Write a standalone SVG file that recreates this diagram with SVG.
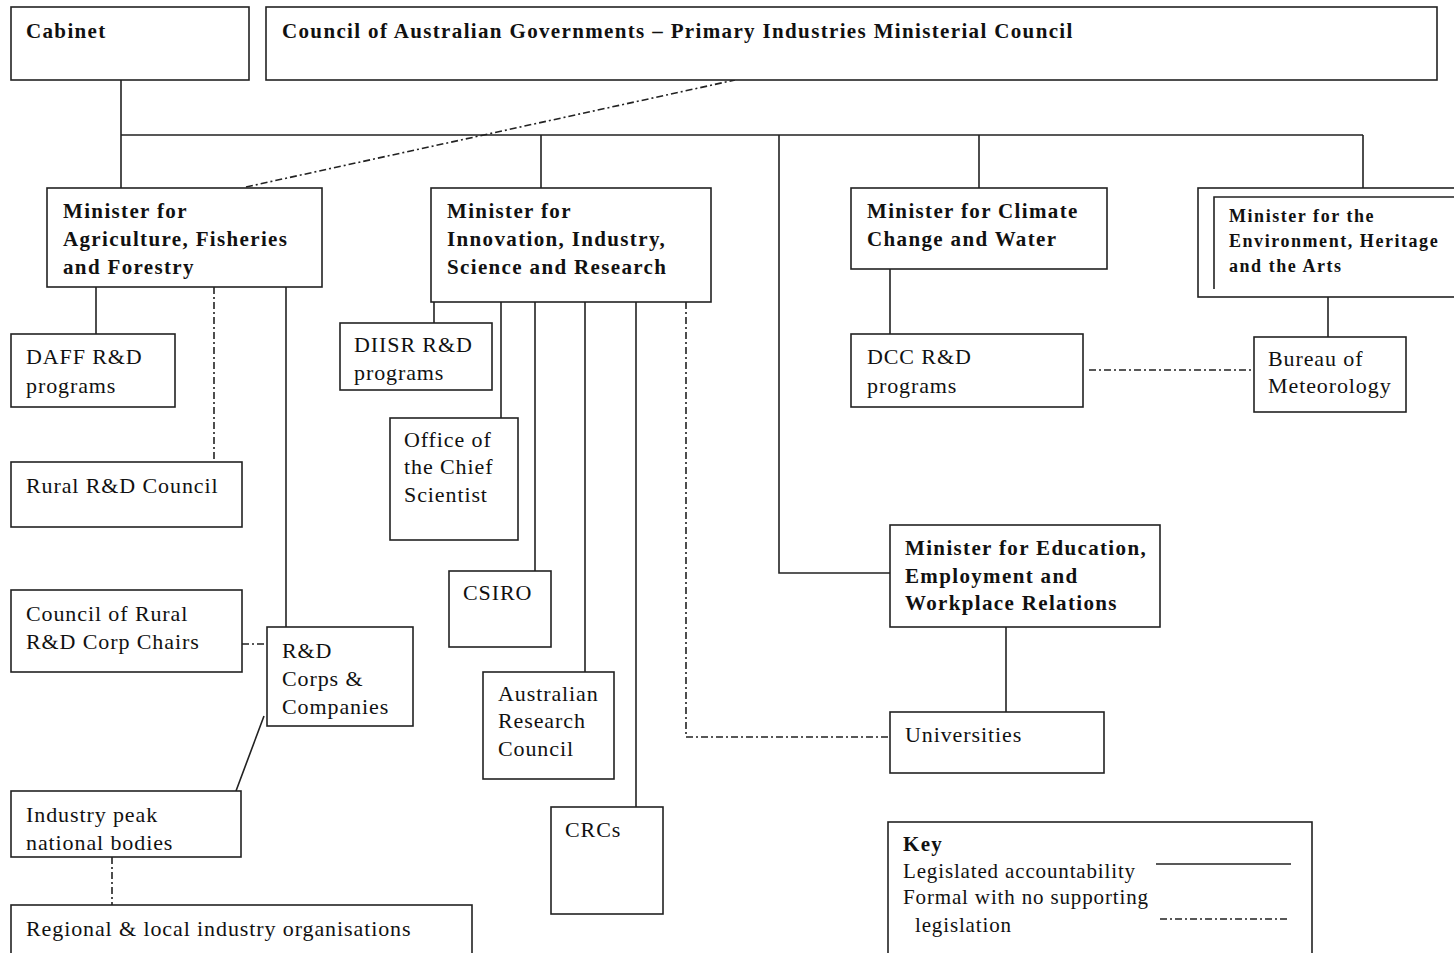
<svg xmlns="http://www.w3.org/2000/svg" width="1454" height="953" viewBox="0 0 1454 953">
<style>
.box{fill:#fff;stroke:#222;stroke-width:1.6}
.ln{fill:none;stroke:#222;stroke-width:1.6}
.dd{fill:none;stroke:#222;stroke-width:1.6;stroke-dasharray:7,3,2,3}
.b{font-family:"Liberation Serif",serif;font-weight:bold;font-size:21px;letter-spacing:1.35px;fill:#111}
.r{font-family:"Liberation Serif",serif;font-size:22px;letter-spacing:0.9px;fill:#111}
.k{font-family:"Liberation Serif",serif;font-size:21px;letter-spacing:0.85px;fill:#111}
.be{font-family:"Liberation Serif",serif;font-weight:bold;font-size:18px;letter-spacing:1.55px;fill:#111}
</style>
<rect width="1454" height="953" fill="#fff"/>
<g id="connectors">
<path class="ln" d="M121 80V188M121 135H1363M541 135V188M779 135V573H890M979 135V188M1363 135V188"/>
<path class="dd" d="M246 187L735 80"/>
<path class="ln" d="M96 287V334M286 287V627M264 716L236 791"/>
<path class="dd" d="M214 287V462M242 644H267M112 857V905"/>
<path class="ln" d="M434 302V323M501 302V418M535 302V571M585 302V672M636 302V807"/>
<path class="dd" d="M686 302V737H890"/>
<path class="ln" d="M890 269V334M1328 297V337M1006 627V712"/>
<path class="dd" d="M1089 370H1254"/>
</g>
<g id="cabinet"><rect class="box" x="11" y="7" width="238" height="73"/><text class="b" x="26" y="38">Cabinet</text></g>
<g id="coag"><rect class="box" x="266" y="7" width="1171" height="73"/><text class="b" x="282" y="38">Council of Australian Governments – Primary Industries Ministerial Council</text></g>
<g id="min-agri"><rect class="box" x="47" y="188" width="275" height="99"/><text class="b" x="63" y="218">Minister for</text><text class="b" x="63" y="246">Agriculture, Fisheries</text><text class="b" x="63" y="274">and Forestry</text></g>
<g id="min-innov"><rect class="box" x="431" y="188" width="280" height="114"/><text class="b" x="447" y="218">Minister for</text><text class="b" x="447" y="246">Innovation, Industry,</text><text class="b" x="447" y="274">Science and Research</text></g>
<g id="min-climate"><rect class="box" x="851" y="188" width="256" height="81"/><text class="b" x="867" y="218">Minister for Climate</text><text class="b" x="867" y="246">Change and Water</text></g>
<g id="min-env"><rect class="box" x="1198" y="188" width="270" height="109"/><path class="ln" d="M1214 289V197H1454"/><text class="be" x="1229" y="222">Minister for the</text><text class="be" x="1229" y="247">Environment, Heritage</text><text class="be" x="1229" y="272">and the Arts</text></g>
<g id="daff"><rect class="box" x="11" y="334" width="164" height="73"/><text class="r" x="26" y="364">DAFF R&amp;D</text><text class="r" x="26" y="393">programs</text></g>
<g id="rural-council"><rect class="box" x="11" y="462" width="231" height="65"/><text class="r" x="26" y="493">Rural R&amp;D Council</text></g>
<g id="corp-chairs"><rect class="box" x="11" y="590" width="231" height="82"/><text class="r" x="26" y="621">Council of Rural</text><text class="r" x="26" y="649">R&amp;D Corp Chairs</text></g>
<g id="rd-corps"><rect class="box" x="267" y="627" width="146" height="99"/><text class="r" x="282" y="658">R&amp;D</text><text class="r" x="282" y="686">Corps &amp;</text><text class="r" x="282" y="714">Companies</text></g>
<g id="industry-peak"><rect class="box" x="11" y="791" width="230" height="66"/><text class="r" x="26" y="822">Industry peak</text><text class="r" x="26" y="850">national bodies</text></g>
<g id="regional"><rect class="box" x="11" y="905" width="461" height="60"/><text class="r" x="26" y="936">Regional &amp; local industry organisations</text></g>
<g id="diisr"><rect class="box" x="340" y="323" width="152" height="67"/><text class="r" x="354" y="352">DIISR R&amp;D</text><text class="r" x="354" y="380">programs</text></g>
<g id="chief-scientist"><rect class="box" x="390" y="418" width="128" height="122"/><text class="r" x="404" y="447">Office of</text><text class="r" x="404" y="474">the Chief</text><text class="r" x="404" y="502">Scientist</text></g>
<g id="csiro"><rect class="box" x="449" y="571" width="102" height="76"/><text class="r" x="463" y="600">CSIRO</text></g>
<g id="arc"><rect class="box" x="483" y="672" width="131" height="107"/><text class="r" x="498" y="701">Australian</text><text class="r" x="498" y="728">Research</text><text class="r" x="498" y="756">Council</text></g>
<g id="crcs"><rect class="box" x="551" y="807" width="112" height="107"/><text class="r" x="565" y="837">CRCs</text></g>
<g id="dcc"><rect class="box" x="851" y="334" width="232" height="73"/><text class="r" x="867" y="364">DCC R&amp;D</text><text class="r" x="867" y="393">programs</text></g>
<g id="bom"><rect class="box" x="1254" y="337" width="152" height="75"/><text class="r" x="1268" y="366">Bureau of</text><text class="r" x="1268" y="393">Meteorology</text></g>
<g id="min-edu"><rect class="box" x="890" y="525" width="270" height="102"/><text class="b" x="905" y="555">Minister for Education,</text><text class="b" x="905" y="583">Employment and</text><text class="b" x="905" y="610">Workplace Relations</text></g>
<g id="universities"><rect class="box" x="890" y="712" width="214" height="61"/><text class="r" x="905" y="742">Universities</text></g>
<g id="key"><rect class="box" x="888" y="822" width="424" height="150"/><text class="b" x="903" y="851">Key</text><text class="k" x="903" y="878">Legislated accountability</text><text class="k" x="903" y="904">Formal with no supporting</text><text class="k" x="915" y="932">legislation</text><path class="ln" d="M1156 864H1291"/><path class="dd" d="M1160 919H1290"/></g>
</svg>
